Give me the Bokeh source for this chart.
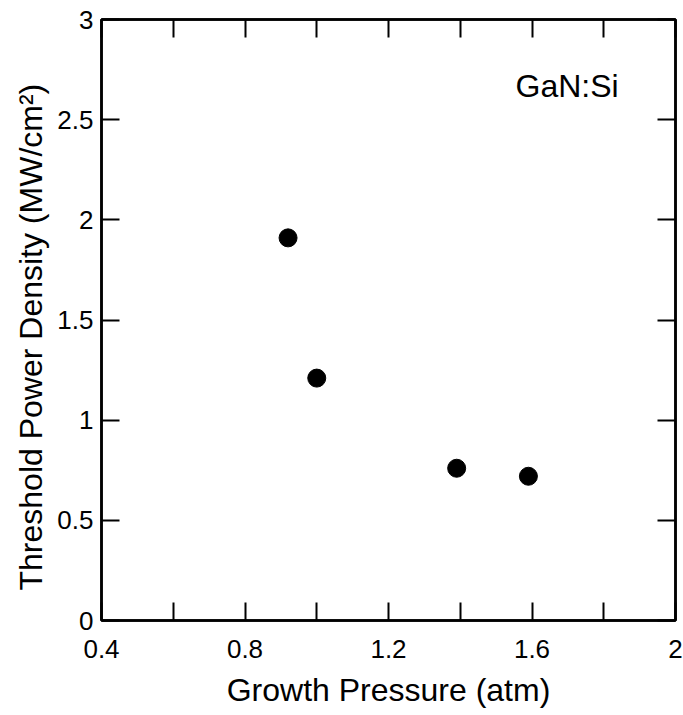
from bokeh.plotting import figure
from bokeh.models import Range1d, FixedTicker, LinearAxis, Label, Title, CustomJSTickFormatter
from bokeh.embed import file_html
from bokeh.resources import INLINE

# Data
pressure_atm = [0.92, 1.00, 1.39, 1.59]
threshold_mw_cm2 = [1.91, 1.21, 0.76, 0.72]

x_major_ticks = [0.4, 0.8, 1.2, 1.6, 2.0]
x_minor_ticks = [0.6, 1.0, 1.4, 1.8]
y_major_ticks = [0, 0.5, 1, 1.5, 2, 2.5, 3]

x_title = "Growth Pressure (atm)"
y_title = "Threshold Power Density (MW/cm\u00b2)"
sample_label = "GaN:Si"
sample_label_pos = (1.554, 2.67)

FONT = "Liberation Sans"

p = figure(width=683, height=715,
           x_range=Range1d(0.4, 2.0), y_range=Range1d(0, 3),
           output_backend="svg", toolbar_location=None,
           min_border_left=101, min_border_right=8,
           min_border_top=19, min_border_bottom=95,
           background_fill_color="white", border_fill_color="white")

p.xgrid.visible = False
p.ygrid.visible = False
p.outline_line_color = "black"
p.outline_line_width = 2.5

fmt = CustomJSTickFormatter(code="return tick.toString();")
blank = CustomJSTickFormatter(code="return '';")


def style_axis(ax, ticker, labels=True):
    ax.ticker = ticker
    ax.axis_line_color = "black"
    ax.axis_line_width = 2.5
    ax.major_tick_in = 18
    ax.major_tick_out = 0
    ax.minor_tick_in = 18
    ax.minor_tick_out = 0
    ax.major_tick_line_width = 2
    ax.minor_tick_line_width = 2
    ax.major_tick_line_color = "black"
    ax.minor_tick_line_color = "black"
    if labels:
        ax.formatter = fmt
        ax.major_label_text_font = FONT
        ax.major_label_text_font_size = "26px"
        ax.major_label_text_color = "black"
        ax.axis_label_text_font = FONT
        ax.axis_label_text_font_size = "32px"
        ax.axis_label_text_font_style = "normal"
        ax.axis_label_text_color = "black"
    else:
        ax.formatter = blank
        ax.major_label_standoff = 0


xticker = FixedTicker(ticks=x_major_ticks, minor_ticks=x_minor_ticks)
yticker = FixedTicker(ticks=y_major_ticks, minor_ticks=[])

style_axis(p.xaxis[0], xticker)
p.xaxis[0].axis_label = x_title
p.xaxis[0].major_label_standoff = 19
p.xaxis[0].axis_label_standoff = 11

style_axis(p.yaxis[0], yticker)
p.yaxis[0].major_label_standoff = 8

top_axis = LinearAxis()
style_axis(top_axis, FixedTicker(ticks=x_major_ticks, minor_ticks=x_minor_ticks), labels=False)
p.add_layout(top_axis, "above")

right_axis = LinearAxis()
style_axis(right_axis, FixedTicker(ticks=y_major_ticks, minor_ticks=[]), labels=False)
p.add_layout(right_axis, "right")

p.scatter(pressure_atm, threshold_mw_cm2, size=18, color="black", marker="circle")

# y-axis title, placed as a side title so it can sit slightly below centre
p.add_layout(Title(text=y_title, align="left", offset=30, vertical_align="middle",
                   standoff=10, text_font=FONT, text_font_size="32px",
                   text_font_style="normal", text_color="black"), "left")

p.add_layout(Label(x=sample_label_pos[0], y=sample_label_pos[1], text=sample_label,
                   text_font=FONT, text_font_size="32px", text_color="black",
                   text_baseline="alphabetic", text_align="left"))

open("out.html", "w").write(file_html(p, INLINE))
